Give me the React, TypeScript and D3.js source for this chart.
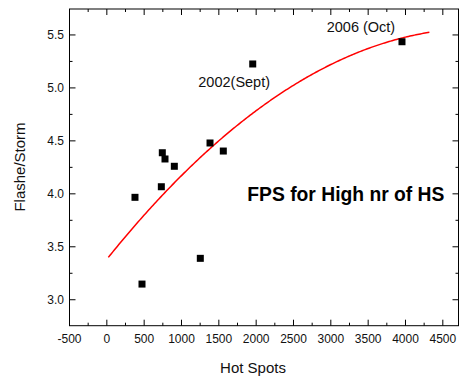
import React from "react";
import * as d3 from "d3";

const hotSpots = [743, 779, 904, 730, 377, 1252, 471, 1382, 1560, 1954, 3953];
const flashesPerStorm = [4.388, 4.329, 4.26, 4.067, 3.967, 3.391, 3.148, 4.48, 4.404, 5.226, 5.436];
const xTicks = [-500, 0, 500, 1000, 1500, 2000, 2500, 3000, 3500, 4000, 4500];
const yTicks = [3.0, 3.5, 4.0, 4.5, 5.0, 5.5];
const xDomain = [-500, 4710];
const yDomain = [2.755, 5.745];
const fitRange = [20, 4320];
const annotations = [
  { text: "2002(Sept)", x: 1954, y: 5.226 },
  { text: "2006 (Oct)", x: 3953, y: 5.436 },
];
const title = "FPS for High nr of HS";
const xLabel = "Hot Spots";
const yLabel = "Flashe/Storm";

function quadFit(xs: number[], ys: number[]) {
  // least squares y = a + b x + c x^2 (x scaled to thousands)
  const s = (f: (x: number, y: number) => number) =>
    xs.reduce((acc, x, i) => acc + f(x / 1000, ys[i]), 0);
  const n = xs.length;
  const S1 = s((x) => x), S2 = s((x) => x * x), S3 = s((x) => x ** 3), S4 = s((x) => x ** 4);
  const T0 = s((_, y) => y), T1 = s((x, y) => x * y), T2 = s((x, y) => x * x * y);
  const M = [
    [n, S1, S2, T0],
    [S1, S2, S3, T1],
    [S2, S3, S4, T2],
  ];
  for (let i = 0; i < 3; i++) {
    for (let k = i + 1; k < 3; k++) {
      const f = M[k][i] / M[i][i];
      for (let j = i; j < 4; j++) M[k][j] -= f * M[i][j];
    }
  }
  const sol = [0, 0, 0];
  for (let i = 2; i >= 0; i--) {
    let v = M[i][3];
    for (let j = i + 1; j < 3; j++) v -= M[i][j] * sol[j];
    sol[i] = v / M[i][i];
  }
  return (x: number) => sol[0] + sol[1] * (x / 1000) + sol[2] * (x / 1000) ** 2;
}

export default function App() {
  const W = 459, H = 377;
  const L = 69.5, R = 458.5, T = 9, B = 325.7;
  const x = d3.scaleLinear().domain(xDomain).range([L, R]);
  const y = d3.scaleLinear().domain(yDomain).range([B, T]);
  const font = "'Liberation Sans', Arial, sans-serif";

  const fit = quadFit(hotSpots, flashesPerStorm);
  const fitXs = d3.range(fitRange[0], fitRange[1] + 1, 20);
  const path = d3.line<number>().x((d) => x(d)).y((d) => y(fit(d)))(fitXs) || "";

  const xMinor = d3.range(-500, 4710, 250).filter((v) => !xTicks.includes(v));
  const yMinor = d3.range(2.75, 5.75, 0.25).filter((v) => !yTicks.some((t) => Math.abs(t - v) < 1e-6) && v > yDomain[0]);

  const major = 6, minor = 3;
  const stroke = "#000";

  return (
    <svg width={W} height={H} style={{ position: "absolute", left: 0, top: 0, background: "#fff" }}>
      <rect x={0} y={0} width={W} height={H} fill="#fff" />
      {/* frame */}
      <rect x={L} y={T} width={R - L} height={B - T} fill="none" stroke={stroke} strokeWidth={1} />
      {/* x ticks bottom & top */}
      {xTicks.map((v) => (
        <g key={"xt" + v}>
          <line x1={x(v)} x2={x(v)} y1={B} y2={B - major} stroke={stroke} />
          <line x1={x(v)} x2={x(v)} y1={T} y2={T + major} stroke={stroke} />
          <text x={x(v)} y={343.3} textAnchor="middle" fontFamily={font} fontSize={12} fill="#111">
            {v}
          </text>
        </g>
      ))}
      {xMinor.map((v) => (
        <g key={"xm" + v}>
          <line x1={x(v)} x2={x(v)} y1={B} y2={B - minor} stroke={stroke} />
          <line x1={x(v)} x2={x(v)} y1={T} y2={T + minor} stroke={stroke} />
        </g>
      ))}
      {/* y ticks left & right */}
      {yTicks.map((v) => (
        <g key={"yt" + v}>
          <line x1={L} x2={L + major} y1={y(v)} y2={y(v)} stroke={stroke} />
          <line x1={R} x2={R - major} y1={y(v)} y2={y(v)} stroke={stroke} />
          <text x={64} y={y(v) + 4.2} textAnchor="end" fontFamily={font} fontSize={12} fill="#111">
            {v.toFixed(1)}
          </text>
        </g>
      ))}
      {yMinor.map((v) => (
        <g key={"ym" + v}>
          <line x1={L} x2={L + minor} y1={y(v)} y2={y(v)} stroke={stroke} />
          <line x1={R} x2={R - minor} y1={y(v)} y2={y(v)} stroke={stroke} />
        </g>
      ))}
      {/* fit curve */}
      <path d={path} fill="none" stroke="#ff0000" strokeWidth={1.5} />
      {/* points */}
      {hotSpots.map((hs, i) => (
        <rect key={"p" + i} x={x(hs) - 3.5} y={y(flashesPerStorm[i]) - 3.5} width={7} height={7} fill="#000" />
      ))}
      {/* annotations */}
      <text x={198.3} y={87} fontFamily={font} fontSize={14.5} fill="#111">{annotations[0].text}</text>
      <text x={326.7} y={31.5} fontFamily={font} fontSize={14.5} fill="#111">{annotations[1].text}</text>
      <text x={247.3} y={200.5} fontFamily={font} fontSize={19.3} fontWeight="bold" fill="#000">{title}</text>
      {/* axis titles */}
      <text x={253} y={372.7} textAnchor="middle" fontFamily={font} fontSize={15} fill="#111">{xLabel}</text>
      <text transform={`translate(25,167) rotate(-90)`} textAnchor="middle" fontFamily={font} fontSize={15} fill="#111">{yLabel}</text>
    </svg>
  );
}
